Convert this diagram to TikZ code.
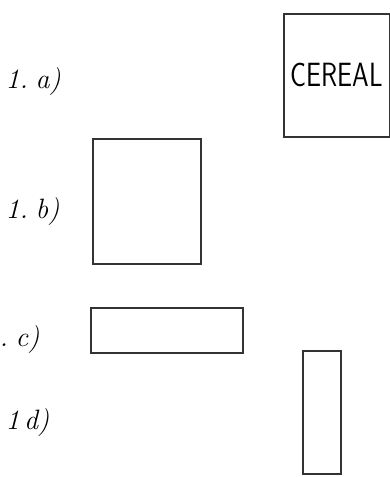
\documentclass[tikz,border=0pt]{standalone}
\usepackage{tikz}
\usetikzlibrary{positioning}

\begin{document}
\begin{tikzpicture}[x=1pt,y=1pt,
  shapebox/.style={draw=black!80,line width=1.5pt,inner sep=0pt},
  lab/.style={font=\fontsize{28}{30}\selectfont\itshape,anchor=west}]
\useasboundingbox (0,0) rectangle (390,-477);
% cereal box (a)
\node[shapebox,minimum width=106pt,minimum height=123pt,anchor=north west,
  font=\fontsize{28}{30}\selectfont\sffamily] (cereal) at (283,-13) {\scalebox{0.95}[1.2]{CEREAL}};
\node[lab] (la) at (2,-82) {1.\;a)};
% front face (b)
\node[shapebox,minimum width=108pt,minimum height=125pt,anchor=north west] (front) at (92,-138) {};
\node[lab] (lb) at (2,-212) {1.\;b)};
% top face (c)
\node[shapebox,minimum width=152pt,minimum height=45pt,anchor=north west] (top) at (90,-307) {};
\node[lab] (lc) at (-4,-340) {.\;c)};
% side face (d)
\node[shapebox,minimum width=38pt,minimum height=123pt,anchor=north west] (side) at (302,-350) {};
\node[lab] (ld) at (2,-423) {1\,d)};
\end{tikzpicture}
\end{document}
